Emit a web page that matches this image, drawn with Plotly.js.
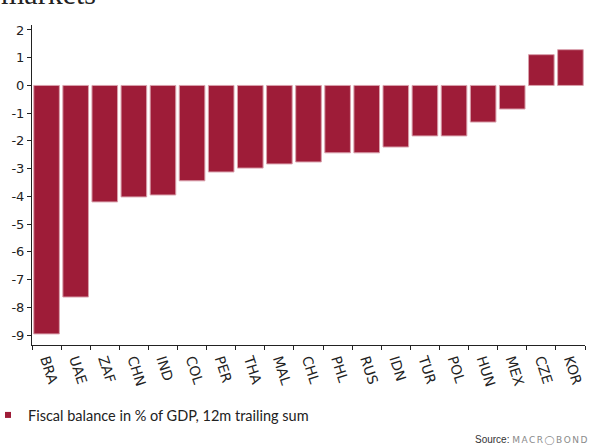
<!DOCTYPE html>
<html><head><meta charset="utf-8">
<script src="https://cdn.plot.ly/plotly-3.0.1.min.js"></script>
<style>html,body{margin:0;padding:0;background:#fff;}</style>
</head><body><div id="chart" style="width:605px;height:447px;"></div>
<script>
const countries = ["BRA","UAE","ZAF","CHN","IND","COL","PER","THA","MAL","CHL","PHL","RUS","IDN","TUR","POL","HUN","MEX","CZE","KOR"];
const fiscalBalance = [-8.96,-7.63,-4.2,-4.02,-3.95,-3.44,-3.12,-2.98,-2.83,-2.76,-2.43,-2.43,-2.22,-1.82,-1.82,-1.32,-0.85,1.11,1.29];
const yTickVals = [2,1,0,-1,-2,-3,-4,-5,-6,-7,-8,-9];
const seriesName = "Fiscal balance in % of GDP, 12m trailing sum";
const barColor = "#9E1C38";

const bars = {
  type: "bar", x: countries, y: fiscalBalance, name: seriesName,
  marker: {color: barColor, line: {color: "#d9a0ac", width: 1}},
  showlegend: false
};
const legendEntry = {
  type: "scatter", mode: "markers", x: [null], y: [null], name: seriesName,
  marker: {symbol: "square", size: 6, color: barColor}, showlegend: true, hoverinfo: "skip"
};
const W = 553, H = 320;
const layout = {
  width: 605, height: 447,
  margin: {l: 32, r: 20, t: 25, b: 102, autoexpand: false},
  paper_bgcolor: "#fff", plot_bgcolor: "#fff",
  bargap: 0.12,
  font: {family: "DejaVu Sans", color: "#222"},
  xaxis: {
    type: "category", automargin: false, showline: true, linecolor: "#222", linewidth: 1,
    ticks: "outside", ticklen: 4, tickcolor: "#222", tickson: "boundaries",
    tickangle: 72, tickfont: {size: 14, family: "DejaVu Sans", color: "#222"},
    showgrid: false, zeroline: false, range: [-0.5, 18.5]
  },
  yaxis: {
    automargin: false,
    range: [-9.36, 2.18], tickvals: yTickVals, ticktext: yTickVals.map(String),
    showline: true, linecolor: "#222", linewidth: 1,
    ticks: "outside", ticklen: 4, tickcolor: "#222",
    tickfont: {size: 13, family: "DejaVu Sans", color: "#222"},
    showgrid: false, zeroline: false
  },
  showlegend: true,
  legend: {x: -44/W, y: -70/H, xanchor: "left", yanchor: "middle",
    itemwidth: 30, font: {family: "Lato", size: 14.5, color: "#222"}, bgcolor: "rgba(0,0,0,0)"},
  annotations: [
    {text: "markets", xref: "paper", yref: "paper", x: -33/W, y: 1.0 + 13/H, xanchor: "left", yanchor: "bottom",
     showarrow: false, font: {family: "Liberation Serif", size: 30, color: "#222"}},
    {text: "Source: <span style='font-family:DejaVu Sans;color:#8a8a8a;font-size:9px;letter-spacing:1.5px'>MACR◯BOND</span>", xref: "paper", yref: "paper",
     x: 1.0 + 6/W, y: -95/H, xanchor: "right", yanchor: "middle", showarrow: false,
     font: {family: "Liberation Sans", size: 10, color: "#333"}}
  ]
};
Plotly.newPlot("chart", [bars, legendEntry], layout, {displayModeBar: false, staticPlot: true});
</script></body></html>
